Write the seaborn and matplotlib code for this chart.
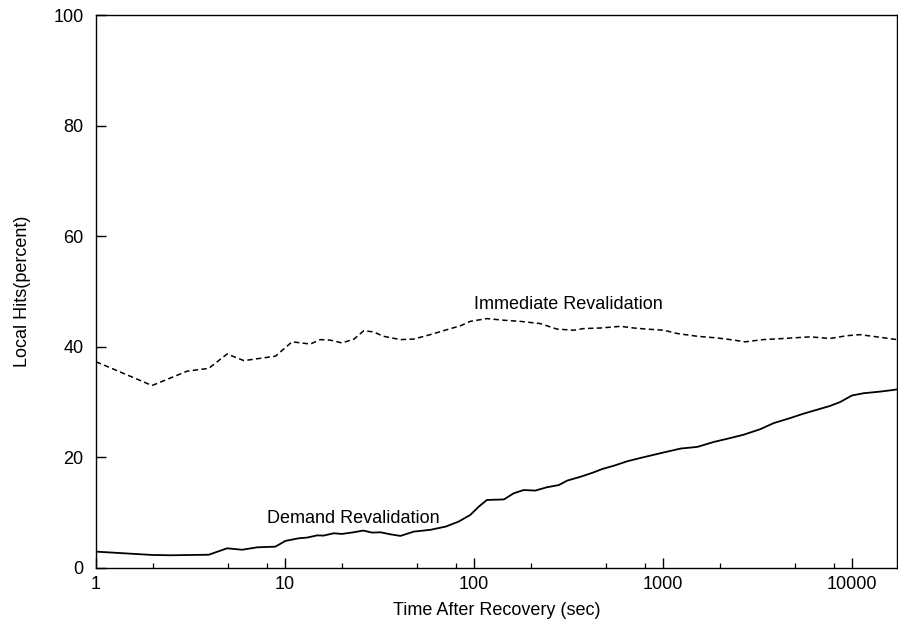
import matplotlib
matplotlib.use("Agg")
import matplotlib.pyplot as plt
import matplotlib.ticker as mticker
import numpy as np
import pandas as pd
import seaborn as sns

# Immediate revalidation (dashed curve): time after recovery (sec) vs local hits (%)
imm_time = [1, 1.98, 3.04, 3.95, 4.94, 6.06, 7.71, 8.9, 10.9, 13.6, 15.4, 17.4, 20.0,
            23.2, 26.1, 29.4, 33.2, 40.8, 48, 58.7, 72, 84.8, 95.6, 117, 144, 176,
            224, 275, 337, 381, 467, 596, 700, 820, 1010, 1190, 1520, 1940, 2270,
            2720, 3390, 4330, 6000, 7640, 9370, 11000, 13500, 17300]
imm_hits = [37.3, 33.0, 35.6, 36.1, 38.7, 37.5, 38.0, 38.3, 40.9, 40.5, 41.3, 41.2, 40.7,
            41.4, 42.9, 42.7, 41.9, 41.3, 41.4, 42.2, 43.1, 43.8, 44.6, 45.1, 44.8, 44.6,
            44.2, 43.2, 43.0, 43.3, 43.4, 43.7, 43.4, 43.2, 43.0, 42.4, 41.9, 41.6, 41.3,
            40.9, 41.3, 41.5, 41.8, 41.5, 42.0, 42.2, 41.8, 41.3]

# Demand revalidation (solid curve)
dem_time = [1, 1.98, 2.48, 3.95, 4.94, 5.93, 7.13, 8.9, 10.05, 11.8, 13.1, 14.8, 16.0,
            18.1, 20.0, 23.1, 25.9, 28.9, 32.0, 36.0, 40.8, 48, 58.7, 70.9, 83.0, 95.6,
            106, 117, 144, 162, 183, 211, 243, 281, 311, 366, 422, 477, 550, 647, 760,
            1010, 1240, 1520, 1860, 2270, 2670, 3270, 3850, 4700, 5530, 6500, 7640,
            8640, 10000, 11500, 14100, 16600, 17300]
dem_hits = [2.96, 2.36, 2.3, 2.4, 3.56, 3.3, 3.74, 3.86, 4.9, 5.37, 5.5, 5.9, 5.86,
            6.28, 6.16, 6.46, 6.77, 6.4, 6.46, 6.1, 5.8, 6.58, 6.9, 7.49, 8.4, 9.6,
            11.1, 12.3, 12.4, 13.5, 14.1, 14.0, 14.6, 15.0, 15.8, 16.5, 17.2, 17.9,
            18.5, 19.3, 19.9, 20.9, 21.6, 21.9, 22.8, 23.5, 24.1, 25.1, 26.2, 27.1,
            27.9, 28.6, 29.3, 30.0, 31.2, 31.6, 31.9, 32.2, 32.3]

x_ticks = [1, 10, 100, 1000, 10000]
x_tick_labels = ["1", "10", "100", "1000", "10000"]
y_ticks = [0, 20, 40, 60, 80, 100]

sns.set_theme(style="ticks")
plt.rcParams["font.family"] = ["Liberation Sans", "DejaVu Sans"]
plt.rcParams["text.color"] = "black"
plt.rcParams["axes.labelcolor"] = "black"

imm = pd.DataFrame({"time": imm_time, "hits": imm_hits})
dem = pd.DataFrame({"time": dem_time, "hits": dem_hits})

fig = plt.figure(figsize=(8.98, 6.25), dpi=100)
ax = fig.add_axes([96 / 898, 57 / 625, 801 / 898, 553 / 625])

sns.lineplot(data=imm, x="time", y="hits", ax=ax, color="black", linewidth=1.1,
             estimator=None, sort=False)
ax.lines[-1].set_dashes([3.5, 2.2])
sns.lineplot(data=dem, x="time", y="hits", ax=ax, color="black", linewidth=1.3,
             estimator=None, sort=False)

ax.set_xscale("log")
ax.set_xlim(1, 17300)
ax.set_ylim(0, 100)
ax.set_xticks(x_ticks)
ax.set_xticklabels(x_tick_labels)
ax.xaxis.set_minor_locator(mticker.LogLocator(base=10, subs=[2, 5, 8]))
ax.xaxis.set_minor_formatter(mticker.NullFormatter())
ax.set_yticks(y_ticks)

for s in ax.spines.values():
    s.set_visible(True)
    s.set_color("black")
    s.set_linewidth(1.0)

ax.tick_params(which="major", direction="in", length=7, width=1.0, colors="black",
               labelcolor="black", labelsize=13)
ax.tick_params(axis="y", which="major", pad=9)
ax.tick_params(axis="x", which="major", pad=6)
ax.tick_params(which="minor", direction="in", length=3.5, width=0.9, colors="black")

ax.set_xlabel("Time After Recovery (sec)", fontsize=13, labelpad=6, color="black")
ax.set_ylabel("Local Hits(percent)", fontsize=13, labelpad=16, color="black")

ax.text(100, 47.6, "Immediate Revalidation", fontsize=13, ha="left", va="center",
        color="black")
ax.text(8, 8.9, "Demand Revalidation", fontsize=13, ha="left", va="center",
        color="black")

fig.savefig("out.png", dpi=100)
